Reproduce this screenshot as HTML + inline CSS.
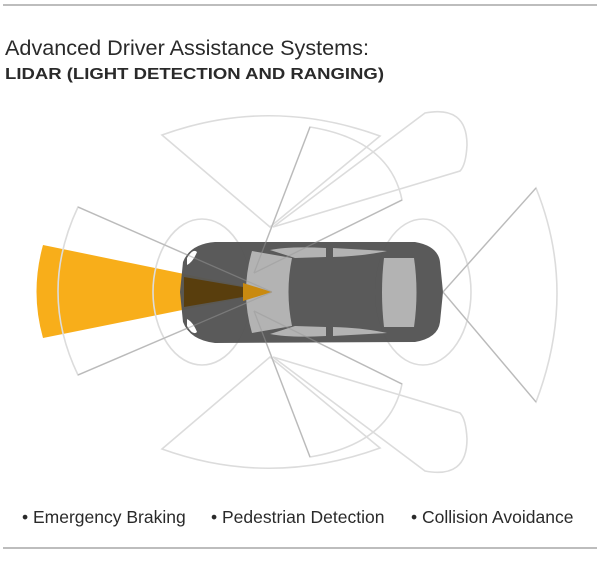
<!DOCTYPE html>
<html><head><style>
body{margin:0;width:600px;height:564px;background:#fff;overflow:hidden;font-family:"Liberation Sans",sans-serif}
</style></head><body>
<svg width="600" height="564" viewBox="0 0 600 564">
<line x1="3" y1="5" x2="597" y2="5" stroke="#bdbdbd" stroke-width="2"/>
<line x1="3" y1="548" x2="597" y2="548" stroke="#bdbdbd" stroke-width="2"/>
<text x="5" y="55" font-size="21" fill="#2a2a2a" textLength="364" lengthAdjust="spacingAndGlyphs">Advanced Driver Assistance Systems:</text>
<text x="5" y="79" font-size="16" font-weight="bold" fill="#2a2a2a" textLength="379" lengthAdjust="spacingAndGlyphs">LIDAR (LIGHT DETECTION AND RANGING)</text>
<path d="M43,245 L272,292 L43,338 Q30,292 43,245Z" fill="#f8ae1a"/>
<g fill="none" stroke="#dcdcdc" stroke-width="1.6">
<g id="top">
<path d="M270,227 L162,135 Q270,96 380,136 Z"/>
<path d="M254,273 L310,127 Q390,140 402,200 Z"/>
<path d="M273,227 L425,113 Q467,105 467,145 Q466,165 460,171 Z"/>
</g>
<use href="#top" transform="translate(0,584) scale(1,-1)"/>
<path d="M272,292 L78,207 Q38,292 78,375 Z"/>
<path d="M443,292 L536,188 Q578,292 536,402 Z"/>
<ellipse cx="202" cy="292" rx="49" ry="73"/>
<ellipse cx="423" cy="292" rx="48" ry="73"/>
</g>
<path d="M215,242 L415,242 Q438,246 440,262 L443,292 L440,322 Q438,338 415,342 L215,343 Q190,340 183,322 L180,292 L183,262 Q190,244 215,242Z" fill="#555" opacity="0.97"/>
<path d="M187,258 Q193,248 197,252 Q193,262 187,265Z M187,326 Q193,336 197,332 Q193,322 187,319Z" fill="#fff"/>
<path d="M252,251 L292,258 Q285,292 292,326 L252,333 Q240,292 252,251Z" fill="#b3b3b3"/>
<path d="M270,250 Q290,246 326,248 L326,257 L295,258Z M333,248 L387,251 Q365,256 333,257Z" fill="#b3b3b3"/>
<path d="M270,334 Q290,338 326,336 L326,327 L295,326Z M333,336 L387,333 Q365,328 333,327Z" fill="#b3b3b3"/>
<path d="M384,258 L414,258 Q419,292 414,327 L384,327 Q380,292 384,258Z" fill="#b3b3b3"/>
<path d="M184,277 L272,292 L184,307Z" fill="#5a3d0a" opacity="0.95"/>
<path d="M243,283 L272,292 L243,301Z" fill="#c98a10"/>
<g fill="none" stroke="#9a9a9a" stroke-width="1.3" opacity="0.5">
<line x1="78" y1="207" x2="272" y2="292"/><line x1="78" y1="375" x2="272" y2="292"/>
<line x1="254" y1="273" x2="402" y2="200"/><line x1="254" y1="311" x2="402" y2="384"/>
<line x1="254" y1="273" x2="310" y2="127"/><line x1="254" y1="311" x2="310" y2="457"/>
<line x1="443" y1="292" x2="536" y2="188"/><line x1="443" y1="292" x2="536" y2="402"/>
</g>
<g font-size="17.5" fill="#2a2a2a">
<text x="22" y="523">• Emergency Braking</text>
<text x="211" y="523">• Pedestrian Detection</text>
<text x="411" y="523">• Collision Avoidance</text>
</g>
</svg>
</body></html>
